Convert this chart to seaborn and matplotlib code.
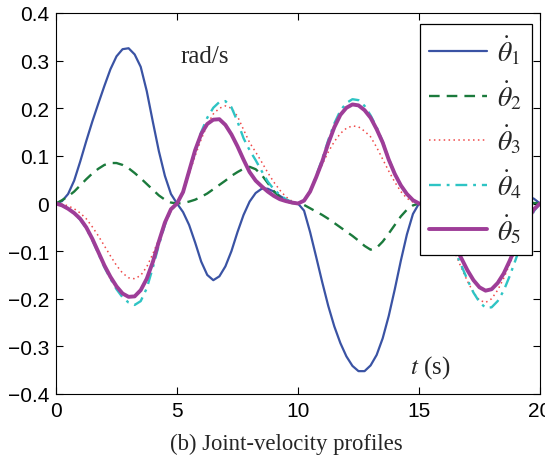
import numpy as np
import pandas as pd
import matplotlib
matplotlib.use('Agg')
import matplotlib.pyplot as plt
import seaborn as sns

# time grid (s), one sample every 0.25 s
t_s = np.arange(0, 20.01, 0.25)

# joint velocities (rad/s), one row per 5 s segment
theta1 = [0, 0.005, 0.02, 0.048, 0.088, 0.131, 0.172, 0.21, 0.247, 0.282, 0.309, 0.324, 0.326, 0.313, 0.287, 0.236, 0.172, 0.11, 0.058, 0.02, 0,
          -0.018, -0.045, -0.082, -0.122, -0.15, -0.161, -0.153, -0.132, -0.1, -0.06, -0.024, 0.004, 0.022, 0.031, 0.031, 0.025, 0.016, 0.008, 0.002, 0,
          -0.015, -0.06, -0.112, -0.165, -0.215, -0.258, -0.293, -0.321, -0.341, -0.352, -0.352, -0.34, -0.318, -0.283, -0.236, -0.18, -0.12, -0.065, -0.022, 0,
          0.005, 0.015, 0.03, 0.048, 0.065, 0.08, 0.09, 0.095, 0.095, 0.09, 0.08, 0.068, 0.055, 0.045, 0.035, 0.027, 0.02, 0.015, 0.01, 0]
theta2 = [0, 0.007, 0.015, 0.025, 0.038, 0.051, 0.063, 0.073, 0.081, 0.085, 0.085, 0.081, 0.074, 0.064, 0.053, 0.041, 0.029, 0.017, 0.008, 0.002, 0,
          0.001, 0.004, 0.008, 0.014, 0.021, 0.03, 0.039, 0.048, 0.058, 0.066, 0.073, 0.077, 0.072, 0.06, 0.043, 0.026, 0.013, 0.005, 0.001, 0,
          -0.003, -0.01, -0.017, -0.024, -0.032, -0.041, -0.05, -0.059, -0.068, -0.078, -0.089, -0.097, -0.093, -0.08, -0.063, -0.045, -0.027, -0.013, -0.004, 0,
          0.003, 0.008, 0.015, 0.022, 0.03, 0.036, 0.04, 0.042, 0.041, 0.038, 0.033, 0.027, 0.021, 0.016, 0.011, 0.007, 0.004, 0.002, 0.001, 0]
theta3 = [0, -0.001, -0.005, -0.011, -0.02, -0.032, -0.049, -0.068, -0.089, -0.11, -0.13, -0.146, -0.156, -0.158, -0.151, -0.133, -0.106, -0.075, -0.043, -0.016, 0,
          0.022, 0.062, 0.1, 0.135, 0.165, 0.188, 0.2, 0.205, 0.2, 0.183, 0.155, 0.128, 0.108, 0.087, 0.065, 0.045, 0.028, 0.014, 0.005, 0,
          0.006, 0.025, 0.054, 0.082, 0.108, 0.13, 0.147, 0.158, 0.163, 0.161, 0.152, 0.14, 0.118, 0.093, 0.068, 0.045, 0.025, 0.011, 0.003, 0,
          -0.003, -0.012, -0.028, -0.05, -0.077, -0.105, -0.135, -0.163, -0.187, -0.203, -0.208, -0.2, -0.182, -0.157, -0.127, -0.095, -0.063, -0.035, -0.013, 0]
theta4 = [0, -0.004, -0.011, -0.021, -0.034, -0.052, -0.077, -0.105, -0.134, -0.158, -0.18, -0.197, -0.208, -0.213, -0.205, -0.178, -0.135, -0.087, -0.045, -0.014, 0,
          0.024, 0.068, 0.11, 0.15, 0.18, 0.201, 0.213, 0.215, 0.202, 0.172, 0.137, 0.112, 0.091, 0.068, 0.046, 0.03, 0.018, 0.009, 0.003, 0,
          0.006, 0.026, 0.058, 0.093, 0.133, 0.168, 0.195, 0.211, 0.219, 0.217, 0.205, 0.185, 0.16, 0.13, 0.094, 0.063, 0.039, 0.02, 0.006, 0,
          -0.003, -0.012, -0.027, -0.048, -0.073, -0.1, -0.13, -0.16, -0.187, -0.207, -0.219, -0.218, -0.205, -0.183, -0.152, -0.117, -0.08, -0.045, -0.016, 0]
theta5 = [0, -0.004, -0.011, -0.02, -0.032, -0.05, -0.074, -0.102, -0.13, -0.154, -0.174, -0.189, -0.196, -0.195, -0.182, -0.158, -0.123, -0.08, -0.04, -0.012, 0,
          0.024, 0.068, 0.112, 0.146, 0.167, 0.176, 0.177, 0.165, 0.145, 0.12, 0.092, 0.066, 0.048, 0.036, 0.025, 0.016, 0.009, 0.005, 0.002, 0,
          0.006, 0.025, 0.055, 0.088, 0.126, 0.16, 0.186, 0.201, 0.208, 0.206, 0.196, 0.18, 0.156, 0.128, 0.092, 0.062, 0.038, 0.02, 0.007, 0,
          -0.003, -0.01, -0.024, -0.043, -0.066, -0.09, -0.115, -0.14, -0.161, -0.176, -0.183, -0.18, -0.167, -0.147, -0.12, -0.09, -0.06, -0.033, -0.012, 0]

labels = [r'$\dot{\theta}_1$', r'$\dot{\theta}_2$', r'$\dot{\theta}_3$', r'$\dot{\theta}_4$', r'$\dot{\theta}_5$']
x_ticks = [0, 5, 10, 15, 20]
y_ticks = [-0.4, -0.3, -0.2, -0.1, 0, 0.1, 0.2, 0.3, 0.4]
y_ticklabels = ['\u22120.4', '\u22120.3', '\u22120.2', '\u22120.1', '0', '0.1', '0.2', '0.3', '0.4']

sns.set_style('ticks')
plt.rcParams['font.family'] = ['Liberation Sans', 'DejaVu Sans']
plt.rcParams['mathtext.fontset'] = 'stix'

fig = plt.figure(figsize=(5.45, 4.6), dpi=100)
ax = fig.add_axes([56 / 545, 1 - 395 / 460, 484 / 545, 381 / 460])

styles = [
    dict(color='#3a53a4', lw=1.6, linestyle='-'),
    dict(color='#1b7a3c', lw=1.7, linestyle=(0, (4.5, 3))),
    dict(color='#f04848', lw=1.1, linestyle=(0, (1, 2.2))),
    dict(color='#2ec4c4', lw=1.7, linestyle=(0, (5, 2.5, 1.2, 2.5))),
    dict(color='#9e3d98', lw=2.8, linestyle='-'),
]
series = [theta1, theta2, theta3, theta4, theta5]
for vals, lab, st in zip(series, labels, styles):
    sns.lineplot(x=t_s, y=vals, ax=ax, label=lab, solid_joinstyle='round',
                 dash_joinstyle='round', **st)

ax.set_xlim(0, 20)
ax.set_ylim(-0.4, 0.4)
ax.set_xticks(x_ticks)
ax.set_yticks(y_ticks)
ax.set_yticklabels(y_ticklabels)
ax.tick_params(direction='in', top=True, right=True, length=5, width=0.8,
               labelsize=15, pad=5, colors='black')
for sp in ax.spines.values():
    sp.set_visible(True)
    sp.set_color('black')
    sp.set_linewidth(0.8)
ax.set_xlabel('')
ax.set_ylabel('')

ax.text(5.15, 0.31, 'rad/s', family='Liberation Serif', fontsize=18, va='center', ha='left')
ax.text(14.63, -0.343, r'$t$ (s)', family='Liberation Serif', fontsize=18, va='center', ha='left')

leg = ax.legend(loc='upper right', bbox_to_anchor=(0.983, 0.971), borderaxespad=0,
                fontsize=20, handlelength=2.08, handletextpad=0.36, labelspacing=0.42,
                borderpad=0.35, fancybox=False, framealpha=1, edgecolor='black')
leg.get_frame().set_linewidth(0.9)

fig.text(286 / 545, 1 - 444 / 460, '(b) Joint-velocity profiles', family='Liberation Serif',
         fontsize=16.4, ha='center', va='center')

fig.savefig('out.png', dpi=100)
